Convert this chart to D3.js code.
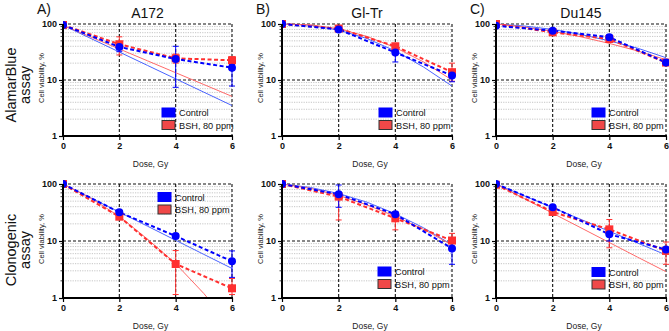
<!DOCTYPE html>
<html><head><meta charset="utf-8">
<script src="https://cdn.jsdelivr.net/npm/d3@7"></script>
<style>
body{margin:0;background:#fff;}
svg{display:block;font-family:"Liberation Sans",Arial,sans-serif;}
</style></head>
<body>
<svg id="chart" width="669" height="331"></svg>
<script>
// ---------- data ----------
const doses = [0, 2, 4, 6];
const fitDoses = [0, 1, 2, 3, 4, 5, 6];
const xTicks = [0, 2, 4, 6];
const yTicks = [1, 10, 100];
const seriesNames = ["Control", "BSH, 80 ppm"];
const cellLines = ["A172", "Gl-Tr", "Du145"];
const panelLetters = ["A)", "B)", "C)"];
const assayTop = ["AlamarBlue", "assay"];
const assayBottom = ["Clonogenic", "assay"];

// AlamarBlue, A172
const abA172Ctrl   = [96, 39, 23.7, 16.6];
const abA172CtrlLo = [94, 32, 7.4, 7.8];
const abA172CtrlHi = [98, 46, 40, 19];
const abA172Bsh    = [96, 43.5, 24.4, 22.5];
const abA172BshLo  = [94, 28, 20, 19];
const abA172BshHi  = [98, 59, 29, 26];
const abA172CtrlFit = [95, 54.8, 31.6, 18.2, 10.5, 6.06, 3.5];
const abA172BshFit  = [95, 58.3, 35.8, 22.0, 13.5, 8.3, 5.1];

// AlamarBlue, Gl-Tr
const abGlCtrl   = [100, 80, 31, 12];
const abGlCtrlLo = [98, 76, 21, 9.3];
const abGlCtrlHi = [102, 84, 38, 14];
const abGlBsh    = [100, 83, 40, 13.8];
const abGlBshLo  = [98, 79, 34, 9.5];
const abGlBshHi  = [102, 87, 45, 20];
const abGlCtrlFit = [100, 95, 78, 55, 33, 17, 7.8];
const abGlBshFit  = [100, 97, 82, 60, 38, 21, 10];

// AlamarBlue, Du145
const abDuCtrl   = [93, 76, 58, 20.5];
const abDuCtrlLo = [90, 70, 52, 19];
const abDuCtrlHi = [96, 82, 64, 22];
const abDuBsh    = [100, 71, 54, 20.5];
const abDuBshLo  = [97, 64, 50, 19];
const abDuBshHi  = [103, 78, 58, 22];
const abDuCtrlFit = [100, 92, 80, 65, 50, 37, 25];
const abDuBshFit  = [100, 88, 74, 59, 45, 33, 23];

// Clonogenic, A172
const clA172Ctrl   = [100, 31.9, 12.2, 4.4];
const clA172CtrlLo = [98, 30, 11, 2.3];
const clA172CtrlHi = [102, 34, 13.5, 6.7];
const clA172Bsh    = [100, 26.7, 3.95, 1.48];
const clA172BshLo  = [98, 25, 1.15, 1.15];
const clA172BshHi  = [102, 28.5, 6.8, 2.2];
const clA172CtrlFit = [100, 56.6, 32.1, 18.2, 10.3, 5.82, 3.3];
const clA172BshFit  = [100, 56, 27, 10.8, 4.0, 1.2, 0.3];

// Clonogenic, Gl-Tr
const clGlCtrl   = [100, 66, 29.4, 7.4];
const clGlCtrlLo = [98, 39, 27, 3.9];
const clGlCtrlHi = [102, 96, 32, 10];
const clGlBsh    = [100, 60, 25, 10.2];
const clGlBshLo  = [98, 23.4, 15.7, 7.5];
const clGlBshHi  = [102, 66, 32.8, 13.6];
const clGlCtrlFit = [100, 87, 68, 48, 30, 17, 8.6];
const clGlBshFit  = [100, 84, 63, 43, 27, 16, 8.5];

// Clonogenic, Du145
const clDuCtrl   = [100, 39, 13.1, 7.1];
const clDuCtrlLo = [98, 37, 10, 6.5];
const clDuCtrlHi = [102, 41, 14.5, 7.7];
const clDuBsh    = [97, 32.3, 16, 6.7];
const clDuBshLo  = [95, 31, 7.6, 3.9];
const clDuBshHi  = [99, 34, 23.8, 9.6];
const clDuCtrlFit = [100, 62.0, 38.5, 23.9, 14.8, 9.2, 5.7];
const clDuBshFit  = [100, 55.4, 30.7, 17.0, 9.4, 5.2, 2.9];

// ---------- layout ----------
const BLUE = "#0000ff", RED = "#ff3030";
const BLUE_FIT = "#4a63ff", RED_FIT = "#ff6a6a";
const cols = [[63, 232], [282, 452], [496, 666]];
const rows = [[24, 136], [184, 298]];
const legendPos = [
  [[162, 112.5], [379, 112.5], [592, 112.5]],
  [[158, 197], [378, 271.5], [592, 272]]
];

const panels = [
  {r:0,c:0,ctrl:abA172Ctrl,ctrlLo:abA172CtrlLo,ctrlHi:abA172CtrlHi,bsh:abA172Bsh,bshLo:abA172BshLo,bshHi:abA172BshHi,ctrlFit:abA172CtrlFit,bshFit:abA172BshFit},
  {r:0,c:1,ctrl:abGlCtrl,ctrlLo:abGlCtrlLo,ctrlHi:abGlCtrlHi,bsh:abGlBsh,bshLo:abGlBshLo,bshHi:abGlBshHi,ctrlFit:abGlCtrlFit,bshFit:abGlBshFit},
  {r:0,c:2,ctrl:abDuCtrl,ctrlLo:abDuCtrlLo,ctrlHi:abDuCtrlHi,bsh:abDuBsh,bshLo:abDuBshLo,bshHi:abDuBshHi,ctrlFit:abDuCtrlFit,bshFit:abDuBshFit},
  {r:1,c:0,ctrl:clA172Ctrl,ctrlLo:clA172CtrlLo,ctrlHi:clA172CtrlHi,bsh:clA172Bsh,bshLo:clA172BshLo,bshHi:clA172BshHi,ctrlFit:clA172CtrlFit,bshFit:clA172BshFit},
  {r:1,c:1,ctrl:clGlCtrl,ctrlLo:clGlCtrlLo,ctrlHi:clGlCtrlHi,bsh:clGlBsh,bshLo:clGlBshLo,bshHi:clGlBshHi,ctrlFit:clGlCtrlFit,bshFit:clGlBshFit},
  {r:1,c:2,ctrl:clDuCtrl,ctrlLo:clDuCtrlLo,ctrlHi:clDuCtrlHi,bsh:clDuBsh,bshLo:clDuBshLo,bshHi:clDuBshHi,ctrlFit:clDuCtrlFit,bshFit:clDuBshFit}
];

const svg = d3.select("#chart");
const minorVals = [2,3,4,5,6,7,8,9,20,30,40,50,60,70,80,90];

// row labels
[[assayTop, 85], [assayBottom, 250]].forEach(([lines, cy]) => {
  const t = svg.append("text")
    .attr("transform", `translate(0,${cy}) rotate(-90)`)
    .attr("text-anchor", "middle")
    .attr("font-size", 14.5)
    .attr("fill", "#111");
  t.append("tspan").attr("x", 0).attr("y", 16).text(lines[0]);
  t.append("tspan").attr("x", 0).attr("y", 30).text(lines[1]);
});

panels.forEach((p, i) => {
  const [x0, x1] = cols[p.c];
  const [yT, yB] = rows[p.r];
  const x = d3.scaleLinear().domain([0, 6]).range([x0, x1]);
  const y = d3.scaleLog().domain([1, 100]).range([yB, yT]);
  const g = svg.append("g");
  const clipId = "clip" + i;
  g.append("clipPath").attr("id", clipId).append("rect")
    .attr("x", x0).attr("y", yT - 6).attr("width", x1 - x0 + 6).attr("height", yB - yT + 6);

  // minor grid
  g.selectAll(".mg").data(minorVals).join("line")
    .attr("x1", x0).attr("x2", x1).attr("y1", d => y(d)).attr("y2", d => y(d))
    .attr("stroke", "#b8b8b8").attr("stroke-width", 0.8).attr("stroke-dasharray", "1.2,1.2");
  // major horizontal grid
  g.selectAll(".Mg").data([10, 100]).join("line")
    .attr("x1", x0).attr("x2", x1).attr("y1", d => y(d)).attr("y2", d => y(d))
    .attr("stroke", "#111").attr("stroke-width", 1.1).attr("stroke-dasharray", "3,2");
  // vertical grid
  g.selectAll(".vg").data([2, 4, 6]).join("line")
    .attr("x1", d => x(d)).attr("x2", d => x(d)).attr("y1", yT).attr("y2", yB)
    .attr("stroke", "#111").attr("stroke-width", 1.1).attr("stroke-dasharray", "3,2");

  const plot = g.append("g").attr("clip-path", `url(#${clipId})`);
  const line = d3.line().x(d => x(d[0])).y(d => y(d[1]));

  // fit lines
  plot.append("path").datum(fitDoses.map((d, k) => [d, p.ctrlFit[k]]))
    .attr("d", line).attr("fill", "none").attr("stroke", BLUE_FIT).attr("stroke-width", 1);
  plot.append("path").datum(fitDoses.map((d, k) => [d, p.bshFit[k]]))
    .attr("d", line).attr("fill", "none").attr("stroke", RED_FIT).attr("stroke-width", 1);

  // dashed mean lines
  plot.append("path").datum(doses.map((d, k) => [d, p.bsh[k]]))
    .attr("d", line).attr("fill", "none").attr("stroke", RED).attr("stroke-width", 2).attr("stroke-dasharray", "4,2.5");
  plot.append("path").datum(doses.map((d, k) => [d, p.ctrl[k]]))
    .attr("d", line).attr("fill", "none").attr("stroke", BLUE).attr("stroke-width", 2).attr("stroke-dasharray", "4,2.5");

  // error bars
  const drawErr = (lo, hi, color) => {
    doses.forEach((d, k) => {
      plot.append("line").attr("x1", x(d)).attr("x2", x(d)).attr("y1", y(hi[k])).attr("y2", y(lo[k]))
        .attr("stroke", color).attr("stroke-width", 1);
      [hi[k], lo[k]].forEach(v => {
        plot.append("line").attr("x1", x(d) - 3).attr("x2", x(d) + 3).attr("y1", y(v)).attr("y2", y(v))
          .attr("stroke", color).attr("stroke-width", 1);
      });
    });
  };
  drawErr(p.bshLo, p.bshHi, RED);
  drawErr(p.ctrlLo, p.ctrlHi, BLUE);

  // points
  plot.selectAll(".sq").data(doses.map((d, k) => [d, p.bsh[k]])).join("rect")
    .attr("x", d => x(d[0]) - 4).attr("y", d => y(d[1]) - 4).attr("width", 8).attr("height", 8)
    .attr("fill", RED);
  plot.selectAll(".ci").data(doses.map((d, k) => [d, p.ctrl[k]])).join("circle")
    .attr("cx", d => x(d[0])).attr("cy", d => y(d[1])).attr("r", 4)
    .attr("fill", BLUE);

  // axes
  const yAxis = d3.axisLeft(y).tickValues(yTicks).tickFormat(d3.format("d")).tickSize(4).tickPadding(2);
  const ya = g.append("g").attr("transform", `translate(${x0},0)`).call(yAxis);
  ya.select(".domain").attr("stroke-width", 2).attr("d", `M0,${yT}V${yB}`);
  ya.selectAll("text").attr("font-size", 9).attr("font-weight", "bold").attr("fill", "#111")
    .attr("font-family", "Liberation Sans, Arial, sans-serif");
  ya.selectAll(".tick line").attr("stroke-width", 1.2);
  g.selectAll(".mt").data(minorVals).join("line")
    .attr("x1", x0 - 2.5).attr("x2", x0).attr("y1", d => y(d)).attr("y2", d => y(d))
    .attr("stroke", "#111").attr("stroke-width", 0.8);

  const xAxis = d3.axisBottom(x).tickValues(xTicks).tickFormat(d3.format("d")).tickSize(4).tickPadding(3);
  const xa = g.append("g").attr("transform", `translate(0,${yB})`).call(xAxis);
  xa.select(".domain").attr("stroke-width", 2).attr("d", `M${x0 - 1},0H${x1 + 1}`);
  xa.selectAll("text").attr("font-size", 9).attr("font-weight", "bold").attr("fill", "#111")
    .attr("font-family", "Liberation Sans, Arial, sans-serif");
  xa.selectAll(".tick line").attr("stroke-width", 1.2);

  // axis labels
  g.append("text").attr("x", (x0 + x1) / 2 + 3).attr("y", yB + 31)
    .attr("text-anchor", "middle").attr("font-size", 8.5).attr("fill", "#222").text("Dose, Gy");
  g.append("text").attr("transform", `translate(${x0 - 19},${(yT + yB) / 2 - 2}) rotate(-90)`)
    .attr("text-anchor", "middle").attr("font-size", 7.5).attr("fill", "#222").text("Cell viability, %");

  // titles
  if (p.r === 0) {
    g.append("text").attr("x", (x0 + x1) / 2).attr("y", 18).attr("text-anchor", "middle")
      .attr("font-size", 14).attr("fill", "#111").text(cellLines[p.c]);
    g.append("text").attr("x", x0 - 26).attr("y", 14).attr("font-size", 14).attr("fill", "#111")
      .text(panelLetters[p.c]);
  }

  // legend
  const [lx, ly] = legendPos[p.r][p.c];
  const lg = g.append("g");
  seriesNames.forEach((name, k) => {
    const cy = ly + k * 12.5;
    lg.append("rect").attr("x", lx).attr("y", cy - 4.5).attr("width", 13).attr("height", 9)
      .attr("fill", k === 0 ? BLUE : "#f04848")
      .attr("stroke", k === 0 ? BLUE : "#333").attr("stroke-width", 1);
    lg.append("text").attr("x", lx + 17).attr("y", cy + 3.5).attr("font-size", 9.2)
      .attr("fill", "#111").text(name);
  });
});
</script>
</body></html>
